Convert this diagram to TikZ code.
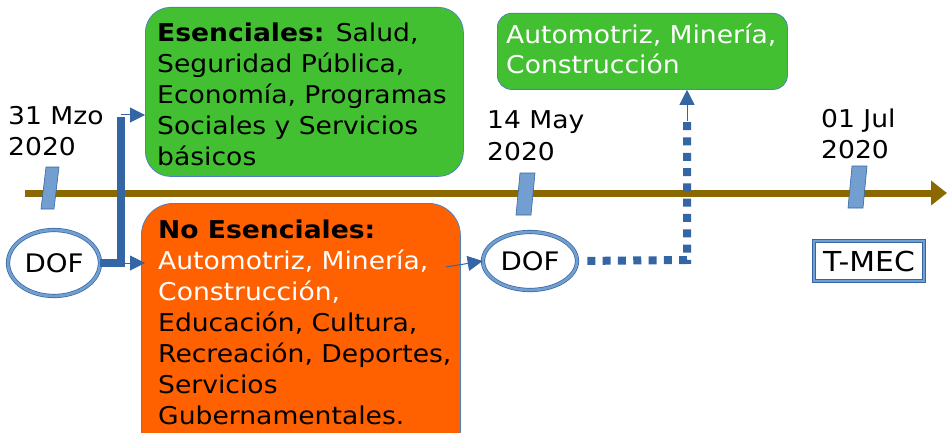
\documentclass[tikz,border=0pt]{standalone}
\usepackage{fontspec}
\setmainfont{DejaVu Sans}[FakeStretch=1.085]
\usetikzlibrary{arrows.meta,shapes.geometric}
\definecolor{grn}{RGB}{67,192,50}
\definecolor{org}{RGB}{255,96,0}
\definecolor{timebrown}{RGB}{140,105,0}
\definecolor{tickfill}{RGB}{114,159,207}
\definecolor{linkblue}{RGB}{52,101,164}
\definecolor{boxblue}{RGB}{79,129,189}
\begin{document}
\begin{tikzpicture}[x=1pt,y=-1pt,
  txt/.style={anchor=north west,inner sep=0pt,align=left,font=\fontsize{24.5}{31}\selectfont},
  box/.style={draw=boxblue,line width=0.8pt,anchor=north west,inner sep=0pt},
  tickmark/.style={fill=tickfill,draw=linkblue,line width=0.6pt},
  ell/.style={ellipse,draw=linkblue,double=tickfill,double distance=2.8pt,line width=0.7pt,fill=white,inner sep=0pt,font=\fontsize{25.5}{30}\selectfont},
  link/.style={draw=linkblue,line width=1pt,-{Triangle[length=15pt,width=15pt]}},
  thickline/.style={draw=linkblue,line width=7.5pt},
  dotline/.style={draw=linkblue,line width=8pt,dash pattern=on 8pt off 7.3pt}
]
\useasboundingbox (0,0) rectangle (947,433);
\clip (0,0) rectangle (947,433);

% boxes
\node[box,fill=grn,rounded corners=25pt,minimum width=318pt,minimum height=169pt] (green1) at (145,7) {};
\node[box,fill=grn,rounded corners=14pt,minimum width=290pt,minimum height=76pt] (green2) at (497,13) {};
\node[box,fill=org,rounded corners=32pt,minimum width=319pt,minimum height=260pt] (orange) at (141,203) {};

% box texts
\node[txt] (t1) at (157,17) {\rule{0pt}{24pt}\textbf{Esenciales:} Salud,\\Seguridad Pública,\\Economía, Programas\\Sociales y Servicios\\básicos};
\node[txt,text=white,font=\fontsize{24.5}{30}\selectfont] (t2) at (506,19) {\rule{0pt}{24pt}Automotriz, Minería,\\Construcción};
\node[txt] (t3) at (158,214) {\rule{0pt}{24pt}\textbf{No Esenciales:}\\\textcolor{white}{Automotriz, Minería,}\\\textcolor{white}{Construcción,}\\Educación, Cultura,\\Recreación, Deportes,\\Servicios\\Gubernamentales.};

% timeline
\coordinate (tl0) at (25,193);
\coordinate (tl1) at (947,193);
\draw[line width=7pt,draw=timebrown,-{Triangle[length=16pt,width=24pt]}] (tl0) -- (tl1);

% ticks
\draw[tickmark] (46,167) -- (59,167) -- (54,209) -- (41,209) -- cycle;
\draw[tickmark] (520,173) -- (535,173) -- (531,215) -- (516,215) -- cycle;
\draw[tickmark] (852,166) -- (867,166) -- (863,208) -- (848,208) -- cycle;

% dates
\node[txt] (d1) at (8,100) {\rule{0pt}{24pt}31 Mzo\\2020};
\node[txt,font=\fontsize{24.5}{32}\selectfont] (d2) at (487,104) {\rule{0pt}{24pt}14 May\\2020};
\node[txt] (d3) at (821,103) {\rule{0pt}{24pt}01 Jul\\2020};

% DOF ellipses and T-MEC
\node[ell,minimum width=92pt,minimum height=66pt] (dof1) at (54,263) {DOF};
\node[ell,minimum width=94pt,minimum height=58pt] (dof2) at (530,261) {DOF};
\node[draw=linkblue,double=tickfill,double distance=2.5pt,line width=0.7pt,fill=white,inner sep=0pt,minimum width=110pt,minimum height=40pt,font=\fontsize{27.5}{30}\selectfont] (tmec) at (869,261) {T-MEC};

% connectors from DOF1
\coordinate (ja) at (121,115);
\coordinate (jb) at (121,263);
\draw[thickline] (dof1.east) -- (jb) -- ([yshift=-2pt]ja);
\draw[link] (ja) -- (ja -| green1.west);
\draw[link] (jb) -- ([xshift=4pt]jb -| orange.west);

% orange -> DOF2
\coordinate (ob) at (446,267);
\draw[link] (ob) -- (dof2.west);

% DOF2 -> green2 (dotted)
\coordinate (c1) at (687,260);
\coordinate (c2) at (687,117);
\draw[dotline,shorten <=10pt] (dof2.east) -- (c1) -- (c2);
\draw[link] ([yshift=-4pt]c2) -- (c2 |- green2.south);
\end{tikzpicture}
\end{document}
